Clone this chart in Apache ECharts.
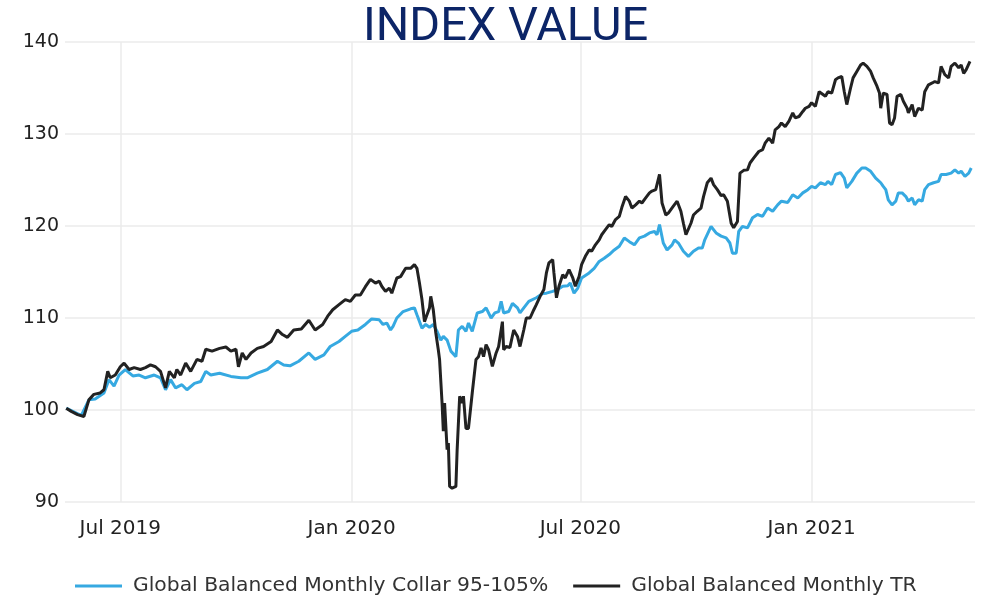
<!DOCTYPE html>
<html>
<head>
<meta charset="utf-8">
<title>Index Value</title>
<script src="https://cdn.jsdelivr.net/npm/echarts@6/dist/echarts.min.js"></script>
<style>
  html, body { margin: 0; padding: 0; background: #fff; }
  #chart { width: 986px; height: 601px; }
</style>
</head>
<body>
<div id="chart"></div>
<script>
// values (one line per month)
const trDates = [
  '2019-05-19', '2019-05-23', '2019-05-28',
  '2019-06-02', '2019-06-06', '2019-06-10', '2019-06-15', '2019-06-18', '2019-06-21', '2019-06-23', '2019-06-27',
  '2019-07-01', '2019-07-04', '2019-07-08', '2019-07-12', '2019-07-17', '2019-07-21', '2019-07-25', '2019-07-29',
  '2019-08-02', '2019-08-06', '2019-08-09', '2019-08-13', '2019-08-15', '2019-08-18', '2019-08-22', '2019-08-26', '2019-08-31',
  '2019-09-04', '2019-09-07', '2019-09-12', '2019-09-18', '2019-09-23', '2019-09-27',
  '2019-10-01', '2019-10-03', '2019-10-06', '2019-10-09', '2019-10-13', '2019-10-18', '2019-10-23', '2019-10-29',
  '2019-11-03', '2019-11-07', '2019-11-11', '2019-11-16', '2019-11-22', '2019-11-28',
  '2019-12-03', '2019-12-09', '2019-12-13', '2019-12-17', '2019-12-22', '2019-12-27', '2019-12-31',
  '2020-01-04', '2020-01-08', '2020-01-12', '2020-01-16', '2020-01-20', '2020-01-23', '2020-01-25', '2020-01-28', '2020-01-31',
  '2020-02-02', '2020-02-06', '2020-02-09', '2020-02-13', '2020-02-17', '2020-02-20', '2020-02-22', '2020-02-24', '2020-02-26', '2020-02-28',
  '2020-03-01', '2020-03-03', '2020-03-04', '2020-03-06', '2020-03-08', '2020-03-10', '2020-03-11', '2020-03-13', '2020-03-14', '2020-03-15', '2020-03-17', '2020-03-18', '2020-03-19', '2020-03-21', '2020-03-24', '2020-03-25', '2020-03-27', '2020-03-29', '2020-03-30',
  '2020-04-01', '2020-04-03', '2020-04-06', '2020-04-09', '2020-04-11', '2020-04-13', '2020-04-15', '2020-04-17', '2020-04-19', '2020-04-22', '2020-04-25', '2020-04-27', '2020-04-30',
  '2020-05-01', '2020-05-03', '2020-05-06', '2020-05-09', '2020-05-12', '2020-05-14', '2020-05-17', '2020-05-19', '2020-05-22', '2020-05-25', '2020-05-27', '2020-05-30',
  '2020-06-02', '2020-06-04', '2020-06-06', '2020-06-09', '2020-06-10', '2020-06-12', '2020-06-14', '2020-06-17', '2020-06-19', '2020-06-22', '2020-06-25', '2020-06-27', '2020-06-30',
  '2020-07-02', '2020-07-05', '2020-07-08', '2020-07-10', '2020-07-13', '2020-07-16', '2020-07-18', '2020-07-21', '2020-07-24', '2020-07-26', '2020-07-29',
  '2020-08-01', '2020-08-03', '2020-08-06', '2020-08-09', '2020-08-11', '2020-08-14', '2020-08-17', '2020-08-19', '2020-08-22', '2020-08-25', '2020-08-27', '2020-08-30',
  '2020-09-02', '2020-09-04', '2020-09-07', '2020-09-09', '2020-09-13', '2020-09-16', '2020-09-19', '2020-09-21', '2020-09-23', '2020-09-27', '2020-09-29',
  '2020-10-02', '2020-10-05', '2020-10-07', '2020-10-10', '2020-10-13', '2020-10-15', '2020-10-18', '2020-10-21', '2020-10-23', '2020-10-26', '2020-10-29', '2020-10-31',
  '2020-11-03', '2020-11-05', '2020-11-08', '2020-11-11', '2020-11-13', '2020-11-16', '2020-11-20', '2020-11-23', '2020-11-25', '2020-11-28',
  '2020-12-01', '2020-12-03', '2020-12-06', '2020-12-08', '2020-12-11', '2020-12-14', '2020-12-17', '2020-12-19', '2020-12-22', '2020-12-25', '2020-12-27', '2020-12-30',
  '2021-01-01', '2021-01-04', '2021-01-07', '2021-01-12', '2021-01-14', '2021-01-17', '2021-01-20', '2021-01-22', '2021-01-25', '2021-01-27', '2021-01-29',
  '2021-02-01', '2021-02-03', '2021-02-06', '2021-02-09', '2021-02-11', '2021-02-14', '2021-02-17', '2021-02-19', '2021-02-22', '2021-02-24', '2021-02-25', '2021-02-27',
  '2021-03-02', '2021-03-04', '2021-03-06', '2021-03-08', '2021-03-10', '2021-03-13', '2021-03-15', '2021-03-18', '2021-03-19', '2021-03-22', '2021-03-24', '2021-03-27', '2021-03-30',
  '2021-04-01', '2021-04-04', '2021-04-07', '2021-04-09', '2021-04-12', '2021-04-14', '2021-04-17', '2021-04-20', '2021-04-22', '2021-04-25', '2021-04-28', '2021-04-30',
  '2021-05-02', '2021-05-04', '2021-05-07'
];
const trValues = [
  100.2, 99.85, 99.5,
  99.3, 101.1, 101.7, 101.85, 102.2, 104.2, 103.5, 103.8,
  104.7, 105.1, 104.4, 104.6, 104.4, 104.6, 104.9, 104.7,
  104.2, 102.4, 104.2, 103.5, 104.4, 103.8, 105.1, 104.2, 105.5,
  105.3, 106.6, 106.4, 106.7, 106.85, 106.4,
  106.6, 104.7, 106.2, 105.5, 106.2, 106.7, 106.9, 107.45,
  108.7, 108.2, 107.9, 108.7, 108.8, 109.75,
  108.7, 109.3, 110.2, 110.9, 111.45, 112.0, 111.8,
  112.5, 112.5, 113.4, 114.2, 113.8, 114.0, 113.45, 112.9, 113.25,
  112.7, 114.35, 114.5, 115.4, 115.4, 115.8, 115.4, 113.8, 112.0, 109.6,
  110.35, 111.1, 112.35, 110.9, 108.4, 106.55, 105.5, 100.75, 97.7, 100.75, 95.7, 96.4, 91.7, 91.5, 91.7, 95.7, 101.5, 100.75, 101.5,
  98.0, 98.0, 101.85, 105.5, 105.8, 106.75, 105.8, 107.1, 106.55, 104.75, 106.2, 106.9, 109.6,
  106.55, 106.9, 106.8, 108.7, 108.0, 106.9, 108.7, 110.0, 110.0, 110.9, 111.45, 112.35,
  113.1, 114.9, 116.0, 116.35, 114.9, 112.2, 113.45, 114.7, 114.35, 115.25, 114.35, 113.45, 114.5,
  115.8, 116.7, 117.4, 117.25, 117.95, 118.5, 119.05, 119.6, 120.15, 119.95, 120.7,
  121.05, 122.0, 123.2, 122.7, 121.95, 122.3, 122.7, 122.5, 123.05, 123.6, 123.8, 123.95,
  125.6, 122.5, 121.2, 121.4, 122.15, 122.7, 121.6, 120.3, 119.05, 120.3, 121.2,
  121.6, 121.95, 123.2, 124.7, 125.2, 124.5, 123.95, 123.3, 123.4, 122.7, 120.3, 119.8,
  120.5, 125.75, 126.05, 126.1, 126.85, 127.4, 128.1, 128.3, 129.0, 129.55,
  129.0, 130.45, 130.8, 131.2, 130.8, 131.4, 132.3, 131.75, 131.9, 132.45, 132.8, 133.0,
  133.4, 133.0, 134.6, 134.1, 134.6, 134.45, 135.9, 136.1, 136.25, 134.6, 133.2,
  135.0, 136.1, 136.8, 137.5, 137.7, 137.35, 136.8, 136.1, 135.2, 134.45, 132.8, 134.45,
  134.3, 131.2, 131.0, 131.75, 134.1, 134.3, 133.55, 132.8, 132.3, 133.2, 131.9, 132.8, 132.6,
  134.6, 135.35, 135.55, 135.7, 135.55, 137.35, 136.45, 136.1, 137.35, 137.7, 137.2, 137.5,
  136.6, 137.0, 137.9
];

const collarDates = [
  '2019-05-19', '2019-05-31',
  '2019-06-06', '2019-06-11', '2019-06-18', '2019-06-22', '2019-06-26', '2019-06-30',
  '2019-07-05', '2019-07-11', '2019-07-16', '2019-07-21', '2019-07-28',
  '2019-08-02', '2019-08-06', '2019-08-10', '2019-08-14', '2019-08-19', '2019-08-23', '2019-08-29',
  '2019-09-03', '2019-09-07', '2019-09-11', '2019-09-18', '2019-09-27',
  '2019-10-05', '2019-10-10', '2019-10-18', '2019-10-26',
  '2019-11-03', '2019-11-08', '2019-11-13', '2019-11-20', '2019-11-28',
  '2019-12-03', '2019-12-10', '2019-12-15', '2019-12-22', '2019-12-27',
  '2020-01-01', '2020-01-06', '2020-01-12', '2020-01-17', '2020-01-23', '2020-01-26', '2020-01-29',
  '2020-02-01', '2020-02-03', '2020-02-06', '2020-02-11', '2020-02-17', '2020-02-20', '2020-02-22', '2020-02-26', '2020-02-29',
  '2020-03-03', '2020-03-06', '2020-03-09', '2020-03-12', '2020-03-14', '2020-03-17', '2020-03-20', '2020-03-24', '2020-03-26', '2020-03-29',
  '2020-04-01', '2020-04-03', '2020-04-06', '2020-04-10', '2020-04-14', '2020-04-17', '2020-04-21', '2020-04-24', '2020-04-27', '2020-04-29',
  '2020-05-01', '2020-05-05', '2020-05-08', '2020-05-12', '2020-05-14', '2020-05-17', '2020-05-21', '2020-05-27',
  '2020-06-01', '2020-06-04', '2020-06-09', '2020-06-13', '2020-06-17', '2020-06-21', '2020-06-23', '2020-06-26', '2020-06-29',
  '2020-07-02', '2020-07-08', '2020-07-12', '2020-07-16', '2020-07-20', '2020-07-24', '2020-07-28',
  '2020-08-01', '2020-08-05', '2020-08-09', '2020-08-13', '2020-08-17', '2020-08-21', '2020-08-25', '2020-08-29', '2020-08-31',
  '2020-09-02', '2020-09-05', '2020-09-08', '2020-09-12', '2020-09-14', '2020-09-17', '2020-09-21', '2020-09-25', '2020-09-29',
  '2020-10-03', '2020-10-06', '2020-10-08', '2020-10-13', '2020-10-17', '2020-10-21', '2020-10-25', '2020-10-28', '2020-10-30',
  '2020-11-02', '2020-11-04', '2020-11-07', '2020-11-11', '2020-11-15', '2020-11-19', '2020-11-23', '2020-11-27',
  '2020-12-01', '2020-12-05', '2020-12-08', '2020-12-13', '2020-12-17', '2020-12-21', '2020-12-25', '2020-12-29',
  '2021-01-01', '2021-01-04', '2021-01-08', '2021-01-12', '2021-01-14', '2021-01-17', '2021-01-20', '2021-01-24', '2021-01-27', '2021-01-29',
  '2021-02-02', '2021-02-06', '2021-02-10', '2021-02-13', '2021-02-17', '2021-02-21', '2021-02-25', '2021-02-27',
  '2021-03-01', '2021-03-03', '2021-03-06', '2021-03-09', '2021-03-11', '2021-03-14', '2021-03-17', '2021-03-19', '2021-03-22', '2021-03-24', '2021-03-27', '2021-03-30',
  '2021-04-01', '2021-04-04', '2021-04-08', '2021-04-12', '2021-04-14', '2021-04-18', '2021-04-22', '2021-04-25', '2021-04-28', '2021-04-30',
  '2021-05-03', '2021-05-06', '2021-05-08'
];
const collarValues = [
  100.2, 99.4,
  101.1, 101.2, 101.85, 103.3, 102.6, 103.8,
  104.4, 103.7, 103.8, 103.5, 103.8,
  103.5, 102.2, 103.3, 102.4, 102.75, 102.2, 102.9,
  103.1, 104.2, 103.8, 104.0, 103.65,
  103.5, 103.5, 104.0, 104.4,
  105.3, 104.9, 104.8, 105.3, 106.2,
  105.5, 106.0, 106.9, 107.45, 108.0,
  108.55, 108.7, 109.3, 109.9, 109.8, 109.3, 109.45,
  108.7, 109.1, 110.0, 110.7, 111.0, 111.1, 110.35, 108.9, 109.3,
  109.0, 109.3, 108.55, 107.6, 108.0, 107.6, 106.4, 105.8, 108.7, 109.1,
  108.55, 109.45, 108.55, 110.55, 110.7, 111.1, 110.0, 110.55, 110.7, 111.8,
  110.55, 110.7, 111.6, 111.1, 110.55, 111.1, 111.8, 112.2,
  112.65, 112.7, 112.9, 113.1, 113.45, 113.5, 113.8, 112.7, 113.25,
  114.35, 114.9, 115.4, 116.15, 116.5, 116.9, 117.4,
  117.8, 118.7, 118.3, 117.95, 118.7, 118.9, 119.25, 119.4, 119.05,
  120.15, 118.15, 117.4, 117.95, 118.5, 118.15, 117.25, 116.7, 117.25,
  117.6, 117.6, 118.5, 119.95, 119.25, 118.9, 118.7, 118.15, 117.05,
  117.05, 119.4, 119.95, 119.8, 120.9, 121.25, 121.05, 121.95,
  121.6, 122.3, 122.7, 122.55, 123.4, 123.05, 123.6, 123.95,
  124.3, 124.15, 124.7, 124.5, 124.85, 124.5, 125.6, 125.8, 125.2, 124.15,
  124.85, 125.75, 126.3, 126.3, 125.95, 125.2, 124.7, 124.3,
  123.95, 122.85, 122.3, 122.7, 123.6, 123.6, 123.2, 122.7, 123.05, 122.3, 122.85, 122.7,
  123.95, 124.5, 124.7, 124.85, 125.6, 125.6, 125.75, 126.1, 125.75, 125.95,
  125.4, 125.75, 126.3
];

const seriesNames = ['Global Balanced Monthly Collar 95-105%', 'Global Balanced Monthly TR'];
const xTickDates = ['2019-07-01', '2020-01-01', '2020-07-01', '2021-01-01'];
const monthNames = ['Jan', 'Feb', 'Mar', 'Apr', 'May', 'Jun', 'Jul', 'Aug', 'Sep', 'Oct', 'Nov', 'Dec'];

// 'YYYY-MM-DD' -> timestamp (ms)
function toTime(s) {
  const p = s.split('-');
  return Date.UTC(+p[0], +p[1] - 1, +p[2]);
}

const chart = echarts.init(document.getElementById('chart'));

// x is a plain value axis of timestamps so the half-year ticks can be given exactly
const option = {
  animation: false,
  title: {
    text: 'INDEX VALUE',
    left: 358,
    top: 0,
    textStyle: {
      fontFamily: 'Roboto',
      fontSize: 47,
      fontWeight: 'normal',
      color: '#0c2567'
    }
  },
  grid: { left: 65, right: 11, top: 42, bottom: 99 },
  legend: {
    left: 70,
    bottom: 0,
    icon: 'rect',
    itemWidth: 47,
    itemHeight: 3,
    itemGap: 25,
    textStyle: { fontFamily: 'DejaVu Sans', fontSize: 20.3, color: '#333', padding: [0, 0, 0, 6] },
    data: seriesNames
  },
  xAxis: {
    type: 'value',
    min: toTime('2019-05-18'),
    max: toTime('2021-05-11'),
    axisLine: { show: false },
    axisTick: { show: false, customValues: xTickDates.map(toTime) },
    axisLabel: {
      customValues: xTickDates.map(toTime),
      margin: 17,
      fontFamily: 'DejaVu Sans',
      fontSize: 20,
      color: '#222',
      formatter: function (v) {
        const d = new Date(v);
        return monthNames[d.getUTCMonth()] + ' ' + d.getUTCFullYear();
      }
    },
    splitLine: { show: true, lineStyle: { color: '#ebebeb', width: 1.5 } }
  },
  yAxis: {
    type: 'value',
    min: 90,
    max: 140,
    interval: 10,
    axisLine: { show: false },
    axisTick: { show: false },
    axisLabel: { margin: 6, fontFamily: 'DejaVu Sans', fontSize: 19, color: '#222' },
    splitLine: { lineStyle: { color: '#ebebeb', width: 1.5 } }
  },
  series: [
    {
      name: seriesNames[0],
      type: 'line',
      showSymbol: false,
      color: '#36a9e1',
      lineStyle: { width: 3 },
      data: collarDates.map((d, i) => [toTime(d), collarValues[i]])
    },
    {
      name: seriesNames[1],
      type: 'line',
      showSymbol: false,
      color: '#222222',
      lineStyle: { width: 3 },
      data: trDates.map((d, i) => [toTime(d), trValues[i]])
    }
  ]
};

chart.setOption(option);
</script>
</body>
</html>
